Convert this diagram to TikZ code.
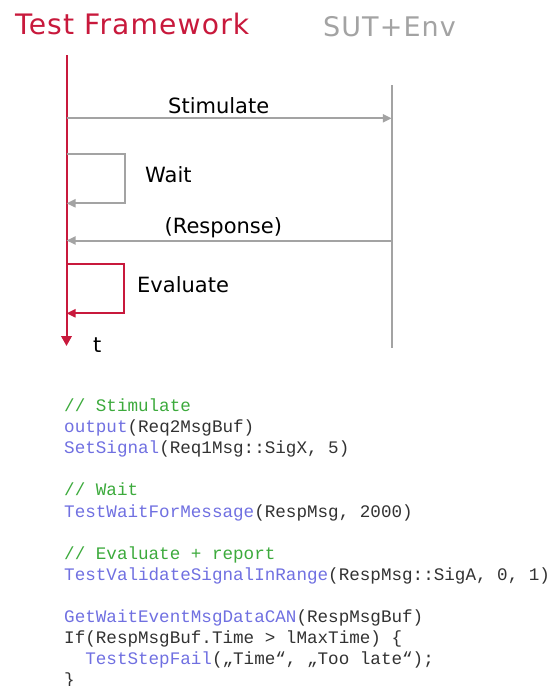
\documentclass[tikz,border=0pt]{standalone}
\usepackage{fontspec}
\setmainfont{DejaVu Sans}
\newfontfamily\headfont[LetterSpace=4]{DejaVu Sans}
\newfontfamily\codefont{Liberation Mono}
\usetikzlibrary{arrows.meta}
\definecolor{tfred}{RGB}{200,25,60}
\definecolor{sutgray}{RGB}{163,163,163}
\definecolor{cmtgreen}{RGB}{60,170,60}
\definecolor{fnblue}{RGB}{112,112,225}
\definecolor{codetxt}{RGB}{50,50,50}
\newcommand{\fn}[1]{\textcolor{fnblue}{#1}}
\newcommand{\cmt}[1]{\textcolor{cmtgreen}{#1}}
\begin{document}
\begin{tikzpicture}[x=1pt,y=-1pt,
  title/.style={anchor=base west,inner sep=0pt,font=\headfont\fontsize{27}{30}\selectfont},
  msglabel/.style={anchor=base west,inner sep=0pt,font=\fontsize{21}{24}\selectfont,text=black},
  msgline/.style={draw=sutgray,line width=2pt,-{Triangle[length=9,width=8]}},
  evalline/.style={draw=tfred,line width=2pt,-{Triangle[length=9,width=8]}},
  codeline/.style={anchor=base west,inner sep=0pt,text=codetxt,font=\codefont\fontsize{17.6}{21}\selectfont}]
\useasboundingbox (0,0) rectangle (560,686);

% column headings
\node[title,text=tfred,font=\headfont\fontsize{28.2}{31}\selectfont] (tfhead) at (15,34.5) {Test Framework};
\node[title,text=sutgray] (suthead) at (323,36.5) {SUT+Env};

% lifelines
\coordinate (tftop) at (66.5,55);
\coordinate (tfend) at (66.5,346);
\coordinate (suttop) at (391.8,85);
\coordinate (sutend) at (391.8,348);
\draw[sutgray,line width=1.4pt] (suttop) -- (sutend);
\draw[tfred,line width=2pt,-{Triangle[length=10,width=10.5]}] (tftop) -- (tfend);
\node[msglabel] (tlabel) at (93,352) {t};

% stimulate
\coordinate (stimA) at (66.5,118.3);
\coordinate (stimB) at (391.8,118.3);
\draw[msgline] (stimA) -- (stimB);
\node[msglabel] (stimlabel) at (168,113) {Stimulate};

% wait loop
\coordinate (waitA) at (66.5,154);
\coordinate (waitB) at (124.5,203.3);
\coordinate (waitC) at (66.5,203.3);
\draw[msgline] (waitA) -| (waitB) -- (waitC);
\node[msglabel] (waitlabel) at (145,182) {Wait};

% response
\coordinate (respA) at (391.8,240.5);
\coordinate (respB) at (66.5,240.5);
\draw[msgline] (respA) -- (respB);
\node[msglabel] (resplabel) at (164.5,233) {(Response)};

% evaluate loop
\coordinate (evalA) at (66.5,264);
\coordinate (evalB) at (124,313.3);
\coordinate (evalC) at (66.5,313.3);
\draw[evalline] (evalA) -| (evalB) -- (evalC);
\node[msglabel] (evallabel) at (137,292.5) {Evaluate};

% test code
\def\lh{21.1}
\node[codeline] (c0)  at (64,411.5+0*\lh) {\cmt{// Stimulate}};
\node[codeline] (c1)  at (64,411.5+1*\lh) {\fn{output}(Req2MsgBuf)};
\node[codeline] (c2)  at (64,411.5+2*\lh) {\fn{SetSignal}(Req1Msg::SigX, 5)};
\node[codeline] (c4)  at (64,411.5+4*\lh) {\cmt{// Wait}};
\node[codeline] (c5)  at (64,411.5+5*\lh) {\fn{TestWaitForMessage}(RespMsg, 2000)};
\node[codeline] (c7)  at (64,411.5+7*\lh) {\cmt{// Evaluate + report}};
\node[codeline] (c8)  at (64,411.5+8*\lh) {\fn{TestValidateSignalInRange}(RespMsg::SigA, 0, 1)};
\node[codeline] (c10) at (64,411.5+10*\lh) {\fn{GetWaitEventMsgDataCAN}(RespMsgBuf)};
\node[codeline] (c11) at (64,411.5+11*\lh) {If(RespMsgBuf.Time > lMaxTime) \{};
\node[codeline] (c12) at (64,411.5+12*\lh) {\hphantom{xx}\fn{TestStepFail}(„Time“, „Too late“);};
\node[codeline] (c13) at (64,411.5+13*\lh) {\}};
\end{tikzpicture}
\end{document}
